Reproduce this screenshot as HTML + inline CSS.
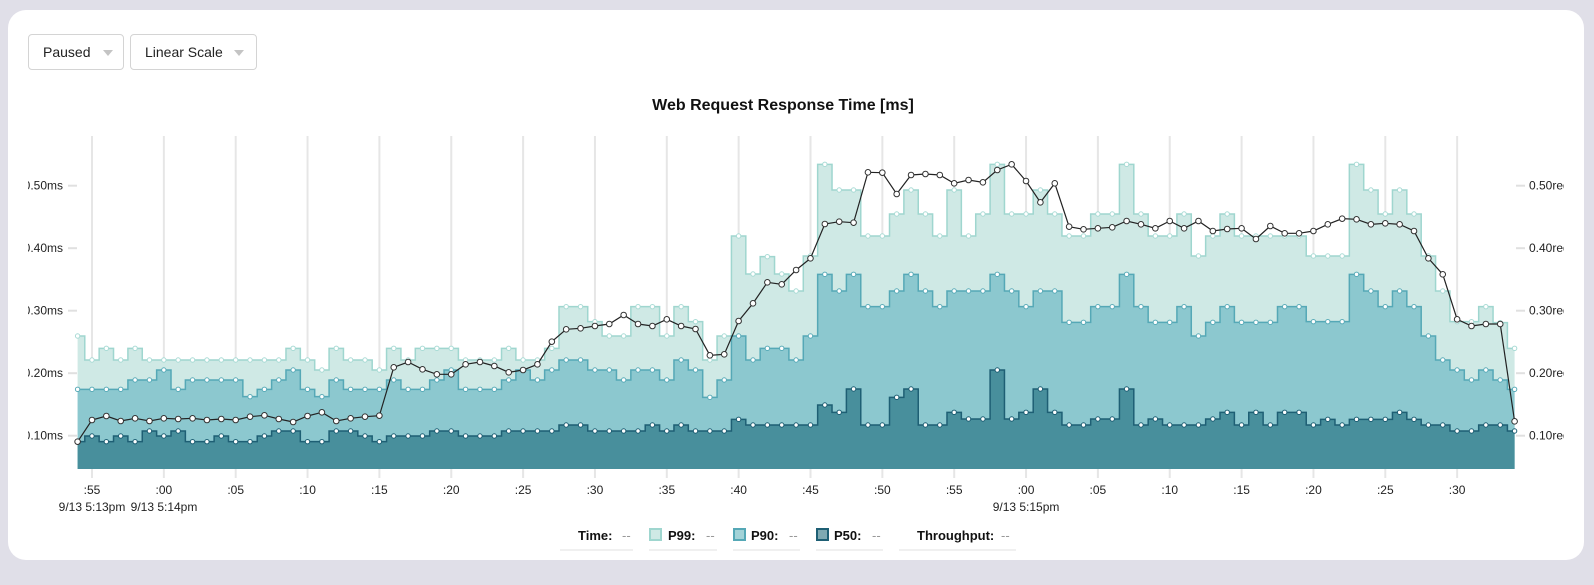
<!DOCTYPE html>
<html><head><meta charset="utf-8">
<style>
html,body{margin:0;padding:0;width:1594px;height:585px;background:#e0dfe8;overflow:hidden;font-family:"Liberation Sans",sans-serif;}
.card{position:absolute;left:8px;top:10px;width:1576px;height:550px;background:#fff;border-radius:18px;}
.dd{position:absolute;top:34px;height:36px;border:1px solid #d4d4d4;border-radius:4px;font-size:14px;color:#222;box-sizing:border-box;line-height:35px;padding-left:14px;}
.dd .ar{position:absolute;top:15px;width:0;height:0;border-left:5px solid transparent;border-right:5px solid transparent;border-top:6px solid #c4c4c4;}
svg{position:absolute;left:0;top:0;}
</style></head><body>
<div class="card"></div>
<div class="dd" style="left:28px;width:96px;">Paused<span class="ar" style="left:74px"></span></div>
<div class="dd" style="left:130px;width:127px;">Linear Scale<span class="ar" style="left:103px"></span></div>
<svg id="s" width="1594" height="585" xmlns="http://www.w3.org/2000/svg">
<defs><clipPath id="cl"><rect x="28" y="0" width="1536" height="585"/></clipPath></defs>
<text x="783" y="110" text-anchor="middle" font-size="16" font-weight="bold" fill="#111">Web Request Response Time [ms]</text>
<g id="grid"></g>
<g id="areas"></g>
<g id="axes" clip-path="url(#cl)" font-size="12" fill="#222"></g>
<g id="leg" font-size="13" fill="#111"></g>
</svg>
<script>
const NS="http://www.w3.org/2000/svg";
function el(t,a,p,txt){const e=document.createElementNS(NS,t);for(const k in a)e.setAttribute(k,a[k]);if(txt!==undefined)e.textContent=txt;document.getElementById(p).appendChild(e);return e;}
function conv(A,B,C,D,E){return [...A.map(z=>300+z/3),...B.map(z=>150+z/3),...C.map(z=>150+z/3),...D.map(z=>150+z/3),...E.map(z=>140+z/3)];}
const P99=conv([108,180,145,180,145,180,180,180,180,180,180,180,180,180,180,145,180,210,145,180,180],
[660,595,630,595,595,595,630,630,630,595,630,630,595,470,470,515,558,558,470,470,558,470,515,630,558,258],
[372,320,372,423,318,43,120,120,258,258,192,120,192,258,120,258,192,43,192,192],
[120,192,258,258,192,192,43,192,258,258,192,318,258,192,258,258,258,258,258],
[348,348,348,73,150,222,150,222,348,453,545,545,500,548,625]);
const P90=conv([268,268,268,268,240,240,210,268,240,240,240,240,290,268,240,210,268,290,240,268,268],
[718,690,718,718,690,660,718,718,718,690,660,690,660,630,630,660,660,690,660,660,690,630,660,742,690,558],
[630,595,595,630,558,373,423,373,470,470,423,373,423,470,423,423,423,373,423,470],
[423,423,517,517,470,470,373,470,517,517,470,558,517,470,517,517,517,470,470],
[545,545,545,403,453,500,453,500,588,660,690,720,690,720,748]);
const P50=conv([425,408,425,408,425,393,408,393,425,425,408,425,425,408,393,393,425,425,393,393,408],
[875,858,858,858,843,843,858,858,858,843,843,843,843,825,825,843,843,843,843,825,843,825,843,843,843,808],
[825,825,825,825,825,765,787,717,825,825,742,717,825,825,787,807,807,660,807,787],
[717,787,825,825,807,807,717,825,807,825,825,825,807,787,825,787,825,787,787],
[855,838,855,838,838,838,817,838,855,855,873,873,855,855,873]);
const TP=conv([425,360,348,363,355,363,355,357,355,360,357,360,350,346,357,366,348,337,363,355,350],
[797,652,636,658,673,673,643,636,648,667,660,643,575,538,535,528,522,495,522,528,508,528,537,616,613,513],
[460,397,403,360,325,222,215,218,67,68,132,75,72,75,100,90,97,60,43,93],
[157,100,230,238,235,232,213,223,235,213,235,213,243,237,235,267,228,250,250],
[273,253,236,238,253,250,253,273,355,403,538,558,552,552,844]);
const N=101,x0=77.6,st=14.37,BOT=469;
const X=i=>x0+i*st;
for(let k=0;k<20;k++){const gx=92+k*71.85;el('line',{x1:gx,x2:gx,y1:136,y2:478,stroke:'#e6e6e6','stroke-width':2},'grid');}
function stepPath(Y){let d=`M${X(0)},${Y[0]}`;for(let i=1;i<N;i++){const m=(X(i-1)+X(i))/2;d+=`H${m}V${Y[i]}`;}d+=`H${X(N-1)}`;return d;}
function series(Y,fill,stroke){const d=stepPath(Y);
el('path',{d:d+`V${BOT}H${X(0)}Z`,fill:fill,stroke:'none'},'areas');
el('path',{d:d,fill:'none',stroke:stroke,'stroke-width':1.5},'areas');}
series(P99,'#cfe9e5','#9fd6cf');series(P90,'#8cc8cf','#55a8b6');series(P50,'#488f9c','#1e5f74');
function dots(Y,stroke,r){for(let i=0;i<N;i++)el('circle',{cx:X(i),cy:Y[i],r:r,fill:'#fff',stroke:stroke,'stroke-width':1},'areas');}
dots(P99,'#a9dbd5',2.2);dots(P90,'#5aabb8',2.2);dots(P50,'#1e5f74',2.2);
let d='';for(let i=0;i<N;i++)d+=(i?'L':'M')+X(i)+','+TP[i];
el('path',{d:d,fill:'none',stroke:'#222','stroke-width':1.2},'areas');
for(let i=0;i<N;i++)el('circle',{cx:X(i),cy:TP[i],r:2.8,fill:'#fff',stroke:'#333','stroke-width':1},'areas');
const vals=[0.1,0.2,0.3,0.4,0.5];
vals.forEach(v=>{const y=435.7-(v-0.1)*625;
el('line',{x1:68,x2:77,y1:y,y2:y,stroke:'#e0e0e0','stroke-width':2},'axes');
el('text',{x:63,y:y+4,'text-anchor':'end'},'axes',v.toFixed(2)+'ms');
el('line',{x1:1516,x2:1525,y1:y,y2:y,stroke:'#e0e0e0','stroke-width':2},'axes');
el('text',{x:1529,y:y+4},'axes',v.toFixed(2)+'req/s');});
const labs=[':55',':00',':05',':10',':15',':20',':25',':30',':35',':40',':45',':50',':55',':00',':05',':10',':15',':20',':25',':30'];
labs.forEach((l,k)=>el('text',{x:92+k*71.85,y:494,'text-anchor':'middle'},'axes',l));
[[92,'9/13 5:13pm'],[164,'9/13 5:14pm'],[92+13*71.85,'9/13 5:15pm']].forEach(a=>el('text',{x:a[0],y:511,'text-anchor':'middle'},'axes',a[1]));
function lt(x,t,b){el('text',{x:x,y:540,'font-weight':b?'bold':'normal',fill:b?'#111':'#999'},'leg',t);}
function ul(x1,x2){el('line',{x1:x1,x2:x2,y1:550,y2:550,stroke:'#e2e2e2','stroke-width':1},'leg');}
lt(578,'Time:',1);lt(622,'--');ul(560,617);ul(617,633);
el('rect',{x:650,y:529,width:11,height:11,fill:'#cfe9e5',stroke:'#9fd6cf','stroke-width':2},'leg');lt(668,'P99:',1);lt(706,'--');ul(649,700);ul(700,717);
el('rect',{x:734,y:529,width:11,height:11,fill:'#a3d3d8',stroke:'#55a8b6','stroke-width':2},'leg');lt(751,'P90:',1);lt(789,'--');ul(733,784);ul(784,800);
el('rect',{x:817,y:529,width:11,height:11,fill:'#7fa9b2',stroke:'#1e5f74','stroke-width':2},'leg');lt(834,'P50:',1);lt(872,'--');ul(816,867);ul(867,883);
lt(917,'Throughput:',1);lt(1001,'--');ul(899,1000);ul(1000,1016);
</script>
</body></html>
